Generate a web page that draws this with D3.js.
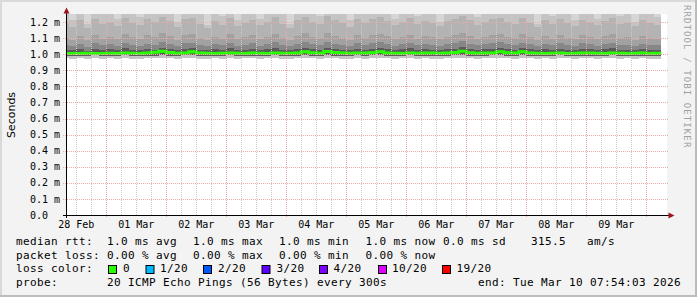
<!DOCTYPE html>
<html><head><meta charset="utf-8">
<script src="https://cdn.jsdelivr.net/npm/d3@7"></script>
<style>body{margin:0;background:#f3f3f3}svg{display:block}</style>
</head><body><svg id="c" width="697" height="297"></svg>
<script>
// ---- data (ms) : 80 columns of 3 hours starting 28 Feb 06:00 UTC ----
const medianRtt=[1.004,1.005,1.004,1.006,1.005,1.004,1.006,1.005,1.007,1.006,
1.005,1.008,1.012,1.018,1.010,1.006,1.007,1.016,1.008,1.006,
1.005,1.006,1.007,1.006,1.005,1.008,1.006,1.005,1.007,1.006,
1.006,1.008,1.015,1.009,1.006,1.017,1.010,1.007,1.006,1.008,
1.007,1.009,1.016,1.008,1.006,1.005,1.007,1.006,1.008,1.007,
1.006,1.008,1.010,1.018,1.009,1.006,1.007,1.008,1.016,1.009,
1.007,1.015,1.008,1.006,1.005,1.006,1.007,1.005,1.006,1.008,
1.007,1.006,1.005,1.007,1.006,1.005,1.006,1.007,1.005,1.006];
const smokeTopA=[1.38,1.42,1.33,1.47,1.36,1.40,1.35,1.44,1.39,1.34,
1.41,1.37,1.46,1.52,1.38,1.33,1.43,1.49,1.36,1.31,
1.40,1.35,1.45,1.32,1.38,1.42,1.34,1.39,1.48,1.37,
1.32,1.41,1.50,1.36,1.35,1.53,1.43,1.38,1.33,1.44,
1.37,1.42,1.47,1.39,1.34,1.36,1.45,1.35,1.40,1.38,
1.31,1.39,1.43,1.55,1.41,1.34,1.37,1.44,1.49,1.40,
1.36,1.46,1.38,1.32,1.42,1.35,1.44,1.37,1.33,1.41,
1.39,1.34,1.40,1.47,1.35,1.38,1.32,1.43,1.37,1.36];
const smokeTopB=[1.27,1.21,1.26,1.19,1.28,1.26,1.27,1.22,1.29,1.26,
1.23,1.27,1.26,1.30,1.27,1.20,1.28,1.29,1.26,1.18,
1.27,1.24,1.29,1.21,1.26,1.28,1.22,1.27,1.30,1.26,
1.19,1.27,1.31,1.26,1.24,1.30,1.28,1.26,1.21,1.28,
1.26,1.28,1.30,1.27,1.22,1.26,1.29,1.24,1.27,1.26,
1.20,1.27,1.28,1.31,1.27,1.23,1.26,1.29,1.30,1.27,
1.25,1.29,1.26,1.19,1.28,1.24,1.28,1.26,1.21,1.27,
1.27,1.22,1.27,1.29,1.24,1.26,1.20,1.28,1.26,1.23];
const smokeTopC=[1.196,1.172,1.214,1.163,1.221,1.185,1.203,1.178,1.228,1.192,
1.181,1.217,1.199,1.231,1.208,1.168,1.219,1.226,1.188,1.160,
1.206,1.183,1.224,1.175,1.197,1.213,1.180,1.201,1.229,1.190,
1.165,1.211,1.233,1.198,1.186,1.236,1.215,1.193,1.171,1.220,
1.194,1.218,1.230,1.205,1.182,1.199,1.223,1.187,1.209,1.195,
1.176,1.204,1.216,1.238,1.212,1.184,1.200,1.222,1.227,1.202,
1.189,1.225,1.197,1.169,1.214,1.186,1.218,1.195,1.177,1.210,
1.201,1.179,1.207,1.224,1.188,1.196,1.174,1.211,1.192,1.183];
const smokeTopD=[1.102,1.091,1.115,1.086,1.121,1.097,1.108,1.093,1.126,1.104,
1.095,1.118,1.106,1.129,1.112,1.090,1.120,1.124,1.099,1.088,
1.110,1.096,1.123,1.092,1.105,1.117,1.094,1.109,1.127,1.101,
1.089,1.114,1.130,1.107,1.098,1.132,1.116,1.100,1.091,1.119,
1.103,1.121,1.128,1.111,1.095,1.106,1.122,1.097,1.113,1.104,
1.092,1.110,1.119,1.133,1.115,1.096,1.108,1.120,1.127,1.109,
1.099,1.125,1.107,1.090,1.116,1.097,1.119,1.103,1.094,1.117,
1.108,1.093,1.111,1.124,1.098,1.105,1.091,1.114,1.101,1.096];
const smokeTopE=[1.058,1.050,1.064,1.047,1.069,1.055,1.061,1.052,1.072,1.057,
1.053,1.066,1.059,1.074,1.062,1.051,1.068,1.071,1.056,1.049,
1.063,1.055,1.070,1.052,1.060,1.067,1.054,1.062,1.073,1.058,
1.050,1.065,1.076,1.061,1.056,1.078,1.066,1.057,1.052,1.068,
1.059,1.069,1.075,1.063,1.054,1.061,1.070,1.056,1.064,1.060,
1.052,1.063,1.068,1.079,1.066,1.055,1.062,1.069,1.074,1.063,
1.057,1.072,1.061,1.051,1.065,1.056,1.068,1.060,1.053,1.067,
1.062,1.054,1.063,1.071,1.056,1.060,1.052,1.066,1.058,1.055];
const smokeTopF=[1.028,1.024,1.031,1.022,1.035,1.026,1.030,1.024,1.038,1.027,
1.025,1.033,1.029,1.040,1.031,1.026,1.034,1.038,1.028,1.024,
1.030,1.027,1.036,1.025,1.029,1.033,1.026,1.031,1.037,1.028,
1.024,1.032,1.039,1.030,1.027,1.041,1.033,1.028,1.025,1.034,
1.029,1.035,1.040,1.031,1.026,1.030,1.036,1.027,1.032,1.029,
1.025,1.031,1.034,1.042,1.033,1.027,1.030,1.035,1.039,1.031,
1.028,1.037,1.030,1.025,1.032,1.027,1.034,1.029,1.026,1.033,
1.030,1.026,1.031,1.036,1.027,1.029,1.025,1.032,1.028,1.026];
const smokeBottomA=[0.974,0.972,0.975,0.971,0.976,0.973,0.974,0.970,0.977,0.973,
0.972,0.975,0.974,0.978,0.975,0.971,0.976,0.977,0.973,0.970,
0.975,0.972,0.976,0.971,0.974,0.975,0.972,0.974,0.977,0.973,
0.970,0.975,0.978,0.974,0.972,0.979,0.975,0.973,0.971,0.976,
0.973,0.976,0.977,0.974,0.972,0.974,0.976,0.972,0.975,0.973,
0.971,0.974,0.976,0.979,0.975,0.972,0.974,0.976,0.978,0.974,
0.973,0.977,0.974,0.970,0.975,0.972,0.976,0.974,0.971,0.975,
0.974,0.971,0.975,0.977,0.972,0.974,0.970,0.975,0.973,0.972];
const smokeBottomB=[0.990,0.988,0.991,0.987,0.992,0.989,0.990,0.987,0.993,0.989,
0.988,0.991,0.990,0.994,0.991,0.987,0.992,0.993,0.989,0.986,
0.991,0.988,0.992,0.987,0.990,0.991,0.988,0.990,0.993,0.989,
0.987,0.991,0.994,0.990,0.988,0.994,0.991,0.989,0.987,0.992,
0.989,0.992,0.993,0.990,0.988,0.990,0.992,0.988,0.991,0.989,
0.987,0.990,0.992,0.994,0.991,0.988,0.990,0.992,0.993,0.990,
0.989,0.993,0.990,0.986,0.991,0.988,0.992,0.990,0.987,0.991,
0.990,0.987,0.991,0.993,0.988,0.990,0.987,0.991,0.989,0.988];
const yTickValues=[0,0.1,0.2,0.3,0.4,0.5,0.6,0.7,0.8,0.9,1.0,1.1,1.2];
const yTickLabels=["0.0","0.1 m","0.2 m","0.3 m","0.4 m","0.5 m","0.6 m","0.7 m","0.8 m","0.9 m","1.0 m","1.1 m","1.2 m"];
const xTickLabels=["28 Feb","01 Mar","02 Mar","03 Mar","04 Mar","05 Mar","06 Mar","07 Mar","08 Mar","09 Mar"];
const lossLabels=["0","1/20","2/20","3/20","4/20","10/20","19/20"];
const lossColors=["#26ff00","#00b8ff","#0059ff","#5e00ff","#7e00ff","#dd00ff","#ff0000"];

// ---- setup ----
const H=3600e3;
const colStart=Date.UTC(2026,1,28,6,0,0), colStep=3*H;
const tStart=Date.UTC(2026,1,28,7,54,3), tEnd=Date.UTC(2026,2,10,7,54,3);
const svg=d3.select("#c");
const x=d3.scaleUtc().domain([tStart,tEnd]).range([66,666]);
const y=d3.scaleLinear().domain([0,1.25]).range([215,14]);
const mono="'DejaVu Sans Mono',monospace";

// frame
svg.append("rect").attr("width",697).attr("height",297).attr("fill","#f3f3f3");
svg.append("rect").attr("x",0).attr("y",0).attr("width",697).attr("height",2).attr("fill","#d9d9d9");
svg.append("rect").attr("x",0).attr("y",0).attr("width",2).attr("height",297).attr("fill","#d9d9d9");
svg.append("rect").attr("x",0).attr("y",295).attr("width",697).attr("height",2).attr("fill","#bcbcbc");
svg.append("rect").attr("x",695).attr("y",0).attr("width",2).attr("height",297).attr("fill","#bcbcbc");

// plot background
svg.append("rect").attr("x",66).attr("y",14).attr("width",601).attr("height",201).attr("fill","#ffffff");
svg.append("clipPath").attr("id","pc").append("rect").attr("x",66).attr("y",14).attr("width",600).attr("height",201);

// columns
const cols=medianRtt.map((m,i)=>({t:colStart+i*colStep,i}));
const colsExt=cols.concat([{t:colStart+cols.length*colStep,i:cols.length-1}]);
const layers=[
 {lo:smokeBottomA,hi:smokeTopA,c:"#d6d6d6"},
 {lo:smokeBottomA,hi:smokeTopB,c:"#c4c4c4"},
 {lo:smokeBottomB,hi:smokeTopC,c:"#b3b3b3"},
 {lo:smokeBottomB,hi:smokeTopD,c:"#a1a1a1"},
 {lo:smokeBottomB,hi:smokeTopE,c:"#878787"},
 {lo:smokeBottomB,hi:smokeTopF,c:"#5c5c5c"}];
const g=svg.append("g").attr("clip-path","url(#pc)");
layers.forEach(L=>{
  const a=d3.area().curve(d3.curveStepAfter)
    .x(d=>x(d.t)).y0(d=>y(L.lo[d.i])).y1(d=>y(Math.min(L.hi[d.i],1.25)));
  g.append("path").datum(colsExt).attr("d",a).attr("fill",L.c).attr("shape-rendering","crispEdges");
});

// grid
const gg=svg.append("g").attr("shape-rendering","crispEdges");
for(let k=0;k<=40;k++){
  const t=Date.UTC(2026,1,28,0)+k*6*H;
  if(t<tStart||t>tEnd) continue;
  const major=(k%4===0);
  gg.append("line").attr("x1",x(t)+0.5).attr("x2",x(t)+0.5).attr("y1",14).attr("y2",major?218:215)
    .attr("stroke",major?"#eeaaaa":"#cccccc").attr("stroke-dasharray","1,1");
}
yTickValues.forEach(v=>{
  if(v===0) return;
  gg.append("line").attr("x1",63).attr("x2",669).attr("y1",Math.round(y(v))+0.5).attr("y2",Math.round(y(v))+0.5)
    .attr("stroke","#eeaaaa").attr("stroke-dasharray","1,1");
});

// median line
const ml=d3.line().curve(d3.curveStepAfter).x(d=>x(d.t)).y(d=>y(medianRtt[d.i]));
g.append("path").datum(colsExt).attr("d",ml).attr("fill","none").attr("stroke",lossColors[0]).attr("stroke-width",3);

// axes
svg.append("line").attr("x1",66.5).attr("x2",66.5).attr("y1",12).attr("y2",218).attr("stroke","#000");
svg.append("line").attr("x1",63).attr("x2",669).attr("y1",215.5).attr("y2",215.5).attr("stroke","#000");
svg.append("path").attr("d","M63.5,13.5 L66.5,7.5 L69.5,13.5 Z").attr("fill","#a0141e");
svg.append("path").attr("d","M668.5,212.5 L674.5,215.5 L668.5,218.5 Z").attr("fill","#a0141e");

// y labels
svg.append("g").selectAll("text").data(yTickValues).join("text")
  .attr("x",30).attr("y",v=>y(v)+3.6).text((v,i)=>yTickLabels[i])
  .attr("font-family",mono).attr("font-size",10).attr("fill","#000");
// x labels
svg.append("g").selectAll("text").data(xTickLabels).join("text")
  .attr("x",(d,k)=>x(Date.UTC(2026,1,28+k,12))).attr("y",228).attr("text-anchor","middle")
  .text(d=>d).attr("font-family",mono).attr("font-size",10).attr("fill","#000");

// y title
svg.append("text").attr("transform","translate(14.5,115) rotate(-90)").attr("text-anchor","middle")
  .attr("font-family","'DejaVu Sans',sans-serif").attr("font-size",11).text("Seconds");
// watermark
svg.append("text").attr("transform","translate(684,5) rotate(90)")
  .attr("font-family",mono).attr("font-size",9).attr("fill","#a0a0a0").attr("letter-spacing","1.1")
  .text("RRDTOOL / TOBI OETIKER");

// legend
const lg=svg.append("g").attr("font-family",mono).attr("font-size",11).attr("letter-spacing","0.38").attr("fill","#000").attr("xml:space","preserve");
const L=(xx,yy,s)=>lg.append("text").attr("x",xx).attr("y",yy).text(s);
const r1=245,r2=258.6,r3=272.3,r4=286;
L(16,r1,"median rtt:");L(107,r1,"1.0 ms avg");L(193,r1,"1.0 ms max");L(279,r1,"1.0 ms min");L(365.5,r1,"1.0 ms now");L(443,r1,"0.0 ms sd");L(531,r1,"315.5");L(587,r1,"am/s");
L(16,r2,"packet loss:");L(107,r2,"0.00 % avg");L(193,r2,"0.00 % max");L(279,r2,"0.00 % min");L(365.5,r2,"0.00 % now");
L(16,r3,"loss color:");
const boxX=[108.5,146,203.5,262,319.5,378.5,442.5], txtX=[123,160,218,276.5,333.5,392,456.5];
lossLabels.forEach((s,i)=>{
  lg.append("rect").attr("x",boxX[i]).attr("y",265.5).attr("width",8).attr("height",8).attr("fill",lossColors[i]).attr("stroke","#000");
  L(txtX[i],r3,s);
});
L(16,r4,"probe:");L(107,r4,"20 ICMP Echo Pings (56 Bytes) every 300s");L(478,r4,"end: Tue Mar 10 07:54:03 2026");
</script></body></html>
